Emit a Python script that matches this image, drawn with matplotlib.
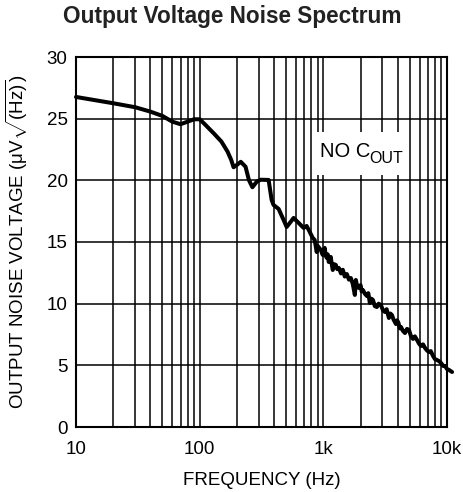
import matplotlib
matplotlib.use("Agg")
import matplotlib.pyplot as plt
from matplotlib.patches import Rectangle
from matplotlib.ticker import FixedLocator, FixedFormatter, NullFormatter

plt.rcParams['font.family'] = ['Liberation Sans', 'DejaVu Sans']
plt.rcParams['mathtext.fontset'] = 'custom'
plt.rcParams['mathtext.rm'] = 'Liberation Sans'
plt.rcParams['mathtext.it'] = 'Liberation Sans:italic'
plt.rcParams['mathtext.bf'] = 'Liberation Sans:bold'

# ---- data ----
freq_hz = [10, 20, 30, 40, 50, 60, 70, 80, 90, 100, 110, 132, 150, 168, 180,
           188, 200, 215, 235, 250, 267, 290, 311, 361, 382, 396, 435, 477,
           505, 544, 575, 631, 693, 733, 762, 821, 851, 884, 901, 953, 989,
           1026, 1045, 1066, 1085, 1106, 1125, 1148, 1170, 1192, 1225, 1261,
           1295, 1334, 1390, 1437, 1490, 1549, 1610, 1668, 1730, 1798, 1832,
           1880, 1937, 2000, 2040, 2088, 2170, 2250, 2310, 2378, 2450, 2517,
           2610, 2710, 2800, 2920, 3040, 3146, 3250, 3390, 3480, 3587, 3700,
           3865, 3950, 4050, 4150, 4244, 4400, 4573, 4750, 4928, 5100, 5309,
           5500, 5720, 5950, 6164, 6400, 6641, 6900, 7156, 7400, 7710, 8000,
           8308, 8600, 8951, 9300, 9645, 10000, 10392, 10990]
noise_uv = [26.76, 26.25, 25.93, 25.57, 25.22, 24.76, 24.55, 24.76, 24.95,
            24.95, 24.55, 23.74, 23.14, 22.33, 21.65, 21.06, 21.25, 21.5,
            21.1, 20.03, 19.44, 19.9, 20.05, 20.03, 18.41, 18.0, 17.68, 16.79,
            16.22, 16.63, 16.95, 16.55, 16.14, 16.3, 15.98, 15.33, 15.17,
            14.19, 14.68, 14.36, 13.95,
            14.52, 13.9, 13.71, 14.0, 13.38, 13.6, 13.79, 13.2, 12.73, 13.2,
            13.14, 12.8, 12.9, 12.45, 12.75, 12.2, 12.4, 11.95, 12.08, 11.6,
            10.71, 11.92, 11.4, 11.27, 11.5, 11.0, 11.11, 10.8, 10.62, 10.85,
            10.06, 10.4, 10.3, 9.8, 9.73, 10.0, 9.89, 9.45, 9.33, 9.55, 8.84,
            9.2, 9.08, 8.7, 8.35, 8.65, 8.45, 8.0, 8.11, 7.8, 7.62, 7.95,
            7.87, 7.4, 7.14, 7.35, 7.06, 6.75, 6.57, 6.7, 6.41, 6.2, 6.08,
            6.15, 5.76, 5.5, 5.43, 5.35, 5.19, 4.95, 4.95, 4.7, 4.62, 4.46]

x_ticks = [10, 100, 1000, 10000]
x_tick_labels = ['10', '100', '1k', '10k']
x_minor = [20, 30, 40, 50, 60, 70, 80, 90,
           200, 300, 400, 500, 600, 700, 800, 900,
           2000, 3000, 4000, 5000, 6000, 7000, 8000, 9000]
y_ticks = [0, 5, 10, 15, 20, 25, 30]

title = 'Output Voltage Noise Spectrum'
x_label = 'FREQUENCY (Hz)'
y_label = r'OUTPUT NOISE VOLTAGE (μV$\sqrt{\mathrm{(Hz)}}$)'
annotation_main = 'NO C'
annotation_sub = 'OUT'

# ---- figure ----
fig = plt.figure(figsize=(4.64, 4.92), dpi=100)
ax = fig.add_axes([76/464, 1 - 427/492, (447 - 76)/464, (427 - 57)/492])

ax.set_xscale('log')
ax.set_xlim(10, 10000)
ax.set_ylim(0, 30)

ax.xaxis.set_major_locator(FixedLocator(x_ticks))
ax.xaxis.set_major_formatter(FixedFormatter(x_tick_labels))
ax.xaxis.set_minor_locator(FixedLocator(x_minor))
ax.xaxis.set_minor_formatter(NullFormatter())
ax.yaxis.set_major_locator(FixedLocator(y_ticks))

ax.grid(True, which='both', axis='x', color='black', linewidth=1.1)
ax.grid(True, which='major', axis='y', color='black', linewidth=1.1)
ax.set_axisbelow(True)

ax.tick_params(axis='both', which='both', length=0, labelsize=13.5)
ax.tick_params(axis='x', pad=10)
ax.tick_params(axis='y', pad=6)

for s in ax.spines.values():
    s.set_linewidth(1.5)
    s.set_color('black')

ax.plot(freq_hz, noise_uv, color='black', linewidth=2.9, clip_on=False,
        solid_joinstyle='round', solid_capstyle='round', zorder=3)

# white backing box for the annotation (hides the grid behind the label)
ax.add_patch(Rectangle((0.647, 0.681), 0.24, 0.116, transform=ax.transAxes,
                       facecolor='white', edgecolor='none', zorder=2.3))
ax.text(935, 22.35, annotation_main, fontsize=14.5, ha='left', va='center',
        zorder=2.5)
ax.annotate(annotation_sub, xy=(935, 22.35), xytext=(35.5, -5.5),
            textcoords='offset points', fontsize=11.5, ha='left', va='center',
            zorder=2.5)

ax.set_xlabel(x_label, fontsize=13.5, labelpad=10)
ax.set_ylabel(y_label, fontsize=13.5, labelpad=12)

fig.text(232/464, 1 - 17/492, title, fontsize=16.3, fontweight='bold',
         ha='center', va='center', color='#222222')

fig.savefig('out.png', dpi=100)
